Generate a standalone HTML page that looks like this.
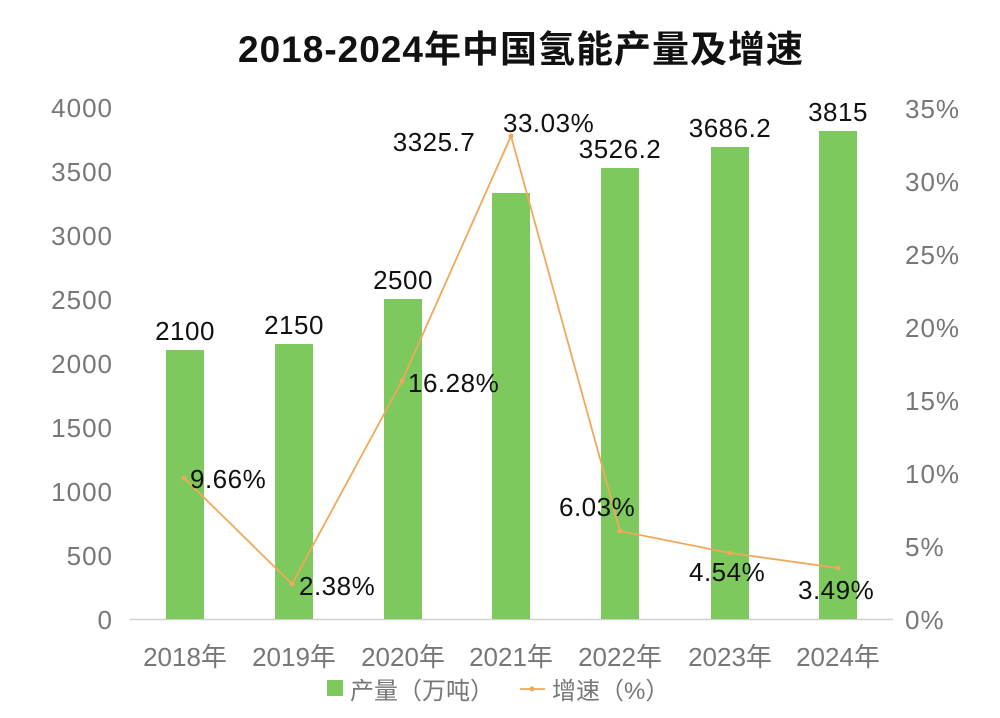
<!DOCTYPE html>
<html><head><meta charset="utf-8"><style>
html,body{margin:0;padding:0;background:#fff;}
svg{display:block;}
text{font-family:"Liberation Sans","Noto Sans CJK SC",sans-serif;}
</style></head><body>
<svg width="1000" height="718" viewBox="0 0 1000 718" xmlns="http://www.w3.org/2000/svg">
<rect width="1000" height="718" fill="#fff"/>
<text x="521" y="62" text-anchor="middle" font-size="37" font-weight="bold" fill="#111" letter-spacing="1">2018-2024年中国氢能产量及增速</text>
<g font-size="26" fill="#777" text-anchor="end" letter-spacing="1">
<text x="113" y="629">0</text><text x="113" y="565">500</text><text x="113" y="501">1000</text>
<text x="113" y="437">1500</text><text x="113" y="373">2000</text><text x="113" y="309">2500</text>
<text x="113" y="245">3000</text><text x="113" y="181">3500</text><text x="113" y="117">4000</text>
</g>
<g font-size="26" fill="#777" text-anchor="start" letter-spacing="1">
<text x="905" y="629">0%</text><text x="905" y="556">5%</text><text x="905" y="483">10%</text>
<text x="905" y="410">15%</text><text x="905" y="337">20%</text><text x="905" y="264">25%</text>
<text x="905" y="191">30%</text><text x="905" y="118">35%</text>
</g>
<line x1="130" y1="619.5" x2="893" y2="619.5" stroke="#d0d0d0" stroke-width="1.5"/>
<g fill="#7dc95e">
<rect x="166" y="350" width="38" height="269"/>
<rect x="275" y="344" width="38" height="275"/>
<rect x="384" y="299" width="38" height="320"/>
<rect x="492" y="193" width="38" height="426"/>
<rect x="601" y="168" width="38" height="451"/>
<rect x="711" y="147" width="38" height="472"/>
<rect x="819" y="131" width="38" height="488"/>
</g>
<g font-size="26" fill="#111" text-anchor="middle" letter-spacing="0.5">
<text x="185" y="340">2100</text><text x="294" y="334">2150</text><text x="403" y="289">2500</text>
<text x="434" y="151">3325.7</text><text x="620" y="158">3526.2</text><text x="730" y="137">3686.2</text><text x="838" y="121">3815</text>
</g>
<polyline points="184,478 292,584 402,381 511,136 620,531 730,553 838,568" fill="none" stroke="#f0a85a" stroke-width="1.8"/>
<g fill="#f0a85a">
<circle cx="184" cy="478" r="2.5"/><circle cx="292" cy="584" r="2.5"/><circle cx="402" cy="381" r="2.5"/>
<circle cx="511" cy="136" r="2.5"/><circle cx="620" cy="531" r="2.5"/><circle cx="730" cy="553" r="2.5"/><circle cx="838" cy="568" r="2.5"/>
</g>
<g font-size="26" fill="#111" letter-spacing="0.5">
<text x="190" y="488">9.66%</text><text x="299" y="595">2.38%</text><text x="408" y="392">16.28%</text>
<text x="503" y="132">33.03%</text><text x="559" y="516">6.03%</text><text x="689" y="581">4.54%</text><text x="798" y="599">3.49%</text>
</g>
<g font-size="26" fill="#777" text-anchor="middle">
<text x="185" y="666">2018年</text><text x="294" y="666">2019年</text><text x="403" y="666">2020年</text>
<text x="511" y="666">2021年</text><text x="620" y="666">2022年</text><text x="730" y="666">2023年</text><text x="838" y="666">2024年</text>
</g>
<rect x="327" y="680" width="16" height="16" fill="#7dc95e"/>
<text x="350" y="699" font-size="24" fill="#777">产量（万吨）</text>
<line x1="520" y1="689" x2="545" y2="689" stroke="#f0a85a" stroke-width="1.8"/>
<circle cx="532" cy="689" r="2.5" fill="#f0a85a"/>
<text x="552" y="699" font-size="24" fill="#777">增速（%）</text>
</svg>
</body></html>
